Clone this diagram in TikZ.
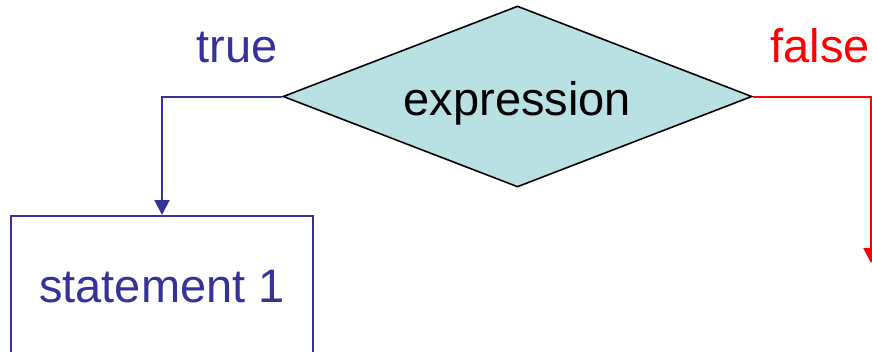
\documentclass[tikz,border=0pt]{standalone}
\usepackage{fontspec}
\setmainfont{Liberation Sans}
\usetikzlibrary{shapes.geometric,arrows.meta}
\definecolor{flowblue}{RGB}{51,51,153}
\definecolor{flowred}{RGB}{255,0,0}
\definecolor{condfill}{RGB}{185,224,227}
\begin{document}
\begin{tikzpicture}[x=1pt,y=-1pt,
  big/.style={font=\fontsize{47}{56}\selectfont},
  cond/.style={shape=diamond,shape aspect=2.59,draw=black,line width=1.6pt,
    fill=condfill,minimum width=469pt,minimum height=181pt,inner sep=0pt,big,
    text height=37pt,text depth=0pt},
  stmtbox/.style={draw=flowblue,line width=2pt,text=flowblue,big,
    minimum width=302pt,minimum height=138pt,inner sep=0pt,
    text height=34pt,text depth=0pt},
  branch/.style={line width=2pt,-{Triangle[width=15pt,length=15pt]}},
  lbl/.style={big,anchor=base}]
  \clip (0,0) rectangle (872,351);
  \useasboundingbox (0,0) rectangle (872,351);

  % condition and its first branch target
  \node[cond] (expr) at (517.5,96.5) {expression};
  \node[stmtbox] (stmt) at (162,285) {statement 1};
  \coordinate (falseend) at (871,263);

  % branch labels
  \node[lbl,text=flowblue] (truelbl) at (237,62) {true};
  \node[lbl,text=flowred] (falselbl) at (820,62) {false};

  % branches
  \draw[branch,flowblue] (expr.west) -| (stmt.north);
  \draw[branch,flowred] (expr.east) -| (falseend);
\end{tikzpicture}
\end{document}
